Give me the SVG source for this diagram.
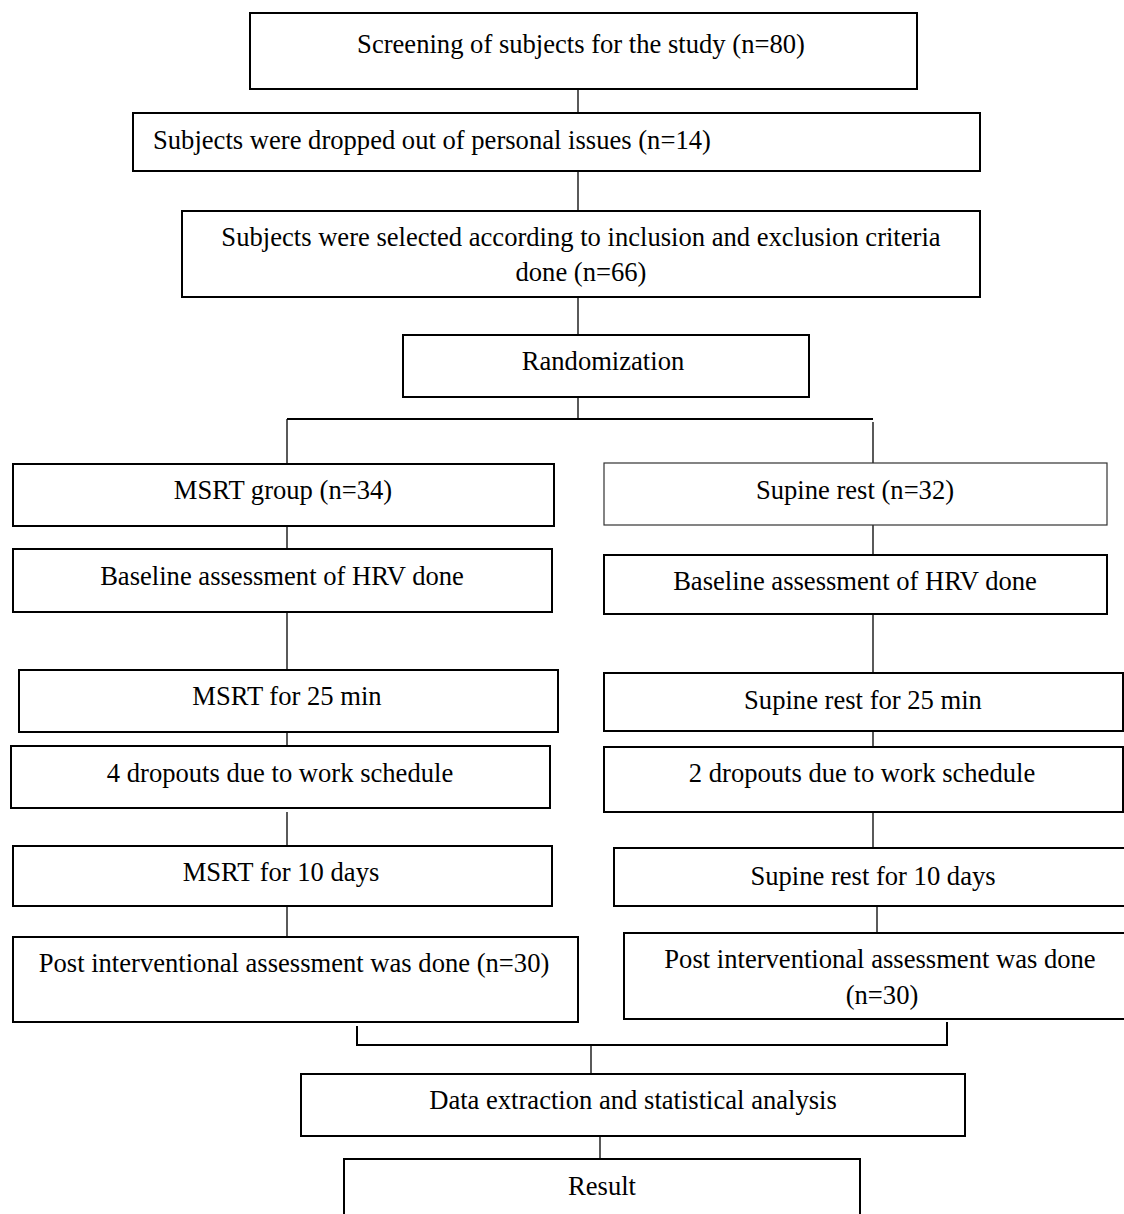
<svg xmlns="http://www.w3.org/2000/svg" width="1124" height="1214" viewBox="0 0 1124 1214">
<style>
.box{fill:#fff;stroke:#000;stroke-width:2}
.thin{fill:#fff;stroke:#333;stroke-width:1.2}
.t{font-family:"Liberation Serif","Times New Roman",serif;font-size:26.6px;fill:#000;text-anchor:middle}
.l{text-anchor:start}
.c{stroke:#000;stroke-width:1.3;fill:none}
</style>
<rect width="1124" height="1214" fill="#fff"/>
<g id="connectors">
<line class="c" x1="578" y1="89" x2="578" y2="113"/>
<line class="c" x1="578" y1="171" x2="578" y2="211"/>
<line class="c" x1="578" y1="297" x2="578" y2="335"/>
<line class="c" x1="578" y1="397" x2="578" y2="420"/>
<line class="c" x1="287" y1="419" x2="873" y2="419" style="stroke-width:2"/>
<line class="c" x1="287" y1="419" x2="287" y2="464"/>
<line class="c" x1="873" y1="422" x2="873" y2="463"/>
<line class="c" x1="287" y1="526" x2="287" y2="549"/>
<line class="c" x1="873" y1="525" x2="873" y2="555"/>
<line class="c" x1="287" y1="612" x2="287" y2="670"/>
<line class="c" x1="873" y1="614" x2="873" y2="673"/>
<line class="c" x1="287" y1="732" x2="287" y2="746"/>
<line class="c" x1="873" y1="731" x2="873" y2="747"/>
<line class="c" x1="287" y1="812" x2="287" y2="846"/>
<line class="c" x1="873" y1="812" x2="873" y2="848"/>
<line class="c" x1="287" y1="906" x2="287" y2="937"/>
<line class="c" x1="877" y1="906" x2="877" y2="933"/>
<path class="c" d="M357 1026 V1045 H947 V1022" style="stroke-width:2"/>
<line class="c" x1="591" y1="1046" x2="591" y2="1074"/>
<line class="c" x1="600" y1="1136" x2="600" y2="1159"/>
</g>
<g id="n1"><rect class="box" x="250" y="13" width="667" height="76"/><text class="t" x="581" y="53">Screening of subjects for the study (n=80)</text></g>
<g id="n2"><rect class="box" x="133" y="113" width="847" height="58"/><text class="t l" x="153" y="149">Subjects were dropped out of personal issues (n=14)</text></g>
<g id="n3"><rect class="box" x="182" y="211" width="798" height="86"/><text class="t" x="581" y="246">Subjects were selected according to inclusion and exclusion criteria</text><text class="t" x="581" y="281">done (n=66)</text></g>
<g id="n4"><rect class="box" x="403" y="335" width="406" height="62"/><text class="t" x="603" y="370">Randomization</text></g>
<g id="n5"><rect class="box" x="13" y="464" width="541" height="62"/><text class="t" x="283" y="499">MSRT group (n=34)</text></g>
<g id="n6"><rect class="thin" x="604" y="463" width="503" height="62"/><text class="t" x="855" y="499">Supine rest (n=32)</text></g>
<g id="n7"><rect class="box" x="13" y="549" width="539" height="63"/><text class="t" x="282" y="585">Baseline assessment of HRV done</text></g>
<g id="n8"><rect class="box" x="604" y="555" width="503" height="59"/><text class="t" x="855" y="590">Baseline assessment of HRV done</text></g>
<g id="n9"><rect class="box" x="19" y="670" width="539" height="62"/><text class="t" x="287" y="705">MSRT for 25 min</text></g>
<g id="n10"><rect class="box" x="604" y="673" width="519" height="58"/><text class="t" x="863" y="709">Supine rest for 25 min</text></g>
<g id="n11"><rect class="box" x="11" y="746" width="539" height="62"/><text class="t" x="280" y="782">4 dropouts due to work schedule</text></g>
<g id="n12"><rect class="box" x="604" y="747" width="519" height="65"/><text class="t" x="862" y="782">2 dropouts due to work schedule</text></g>
<g id="n13"><rect class="box" x="13" y="846" width="539" height="60"/><text class="t" x="281" y="881">MSRT for 10 days</text></g>
<g id="n14"><rect class="box" x="614" y="848" width="516" height="58"/><text class="t" x="873" y="885">Supine rest for 10 days</text></g>
<g id="n15"><rect class="box" x="13" y="937" width="565" height="85"/><text class="t" x="294" y="972">Post interventional assessment was done (n=30)</text></g>
<g id="n16"><rect class="box" x="624" y="933" width="506" height="86"/><text class="t" x="880" y="968">Post interventional assessment was done</text><text class="t" x="882" y="1004">(n=30)</text></g>
<g id="n17"><rect class="box" x="301" y="1074" width="664" height="62"/><text class="t" x="633" y="1109">Data extraction and statistical analysis</text></g>
<g id="n18"><rect class="box" x="344" y="1159" width="516" height="70"/><text class="t" x="602" y="1195">Result</text></g>
</svg>
